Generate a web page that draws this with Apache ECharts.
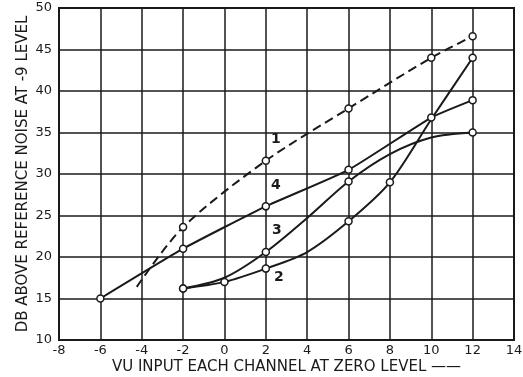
<!DOCTYPE html>
<html><head><meta charset="utf-8">
<script src="https://cdn.jsdelivr.net/npm/echarts@6/dist/echarts.min.js"></script>
<style>html,body{margin:0;padding:0;background:#fff}#c{width:523px;height:377px}</style>
</head><body><div id="c"></div>
<script>
// Curve data: [x, y, showMarker]
const curve1 = [[-4.24,16.4,0],[-2,23.6,1],[2,31.6,1],[6,37.9,1],[10,44.0,1],[12,46.6,1]];
const curve2 = [[-2,16.2,1],[0,17.0,1],[2,18.6,1],[4,20.6,0],[6,24.3,1],[8,29.0,1],[10,36.6,0],[12,44.0,1]];
const curve3 = [[-2,16.2,1],[0,17.5,0],[2,20.6,1],[4,24.7,0],[6,29.1,1],[8,32.4,0],[10,34.4,0],[12,35.0,1]];
const curve4 = [[-6,15.0,1],[-2,21.0,1],[2,26.1,1],[6,30.5,1],[10,36.8,1],[12,38.9,1]];
const curveNames = ['1','2','3','4'];
const labelAtX = 2;
const labelOffsets = {'1':[10,-21],'2':[13,9],'3':[11,-22],'4':[10,-21]};
const xTicks = {min:-8,max:14,interval:2};
const yTicks = {min:10,max:50,interval:5};
const xTitle = 'VU INPUT EACH CHANNEL AT ZERO LEVEL \u2014\u2014';
const yTitle = 'DB ABOVE REFERENCE NOISE AT -9 LEVEL';

const ink = '#1a1a1a';
const font = 'DejaVu Sans';
function mk(name, arr, dashed, smooth){
  return {
    type:'line', name:name, smooth:smooth, symbol:'circle', symbolSize:7,
    itemStyle:{color:'#fff', borderColor:ink, borderWidth:1.5},
    lineStyle:{color:ink, width:2, type: dashed ? [9,5] : 'solid'},
    z:5,
    data: arr.map(p => {
      const d = {value:[p[0],p[1]]};
      if(!p[2]) d.symbol = 'none';
      if(p[0]===labelAtX){
        d.label = {show:true, formatter:name, position:'inside', offset:labelOffsets[name],
          color:ink, fontFamily:font, fontSize:14, fontWeight:'bold'};
      }
      return d;
    })
  };
}
const chart = echarts.init(document.getElementById('c'));
chart.setOption({
  animation:false,
  backgroundColor:'#fff',
  grid:{left:59, right:9, top:8, bottom:37, outerBoundsMode:'none', containLabel:false,
    show:true, borderColor:ink, borderWidth:2},
  xAxis:{type:'value', min:xTicks.min, max:xTicks.max, interval:xTicks.interval,
    axisLine:{show:true, onZero:false, lineStyle:{color:ink, width:2}}, axisTick:{show:false},
    splitLine:{show:true, lineStyle:{color:ink, width:1.5}},
    axisLabel:{color:ink, fontFamily:font, fontSize:13, margin:4},
    name:xTitle, nameLocation:'middle', nameGap:20, nameMoveOverlap:false,
    nameTextStyle:{color:ink, fontFamily:font, fontSize:15}},
  yAxis:{type:'value', min:yTicks.min, max:yTicks.max, interval:yTicks.interval,
    axisLine:{show:true, onZero:false, lineStyle:{color:ink, width:2}}, axisTick:{show:false},
    splitLine:{show:true, lineStyle:{color:ink, width:1.5}},
    axisLabel:{color:ink, fontFamily:font, fontSize:13, margin:7},
    name:yTitle, nameLocation:'middle', nameGap:28, nameRotate:90, nameMoveOverlap:false,
    nameTextStyle:{color:ink, fontFamily:font, fontSize:15}},
  series:[
    mk(curveNames[0], curve1, true, 0.3),
    mk(curveNames[1], curve2, false, 0.3),
    mk(curveNames[2], curve3, false, 0.3),
    mk(curveNames[3], curve4, false, 0.15)
  ]
});
</script></body></html>
